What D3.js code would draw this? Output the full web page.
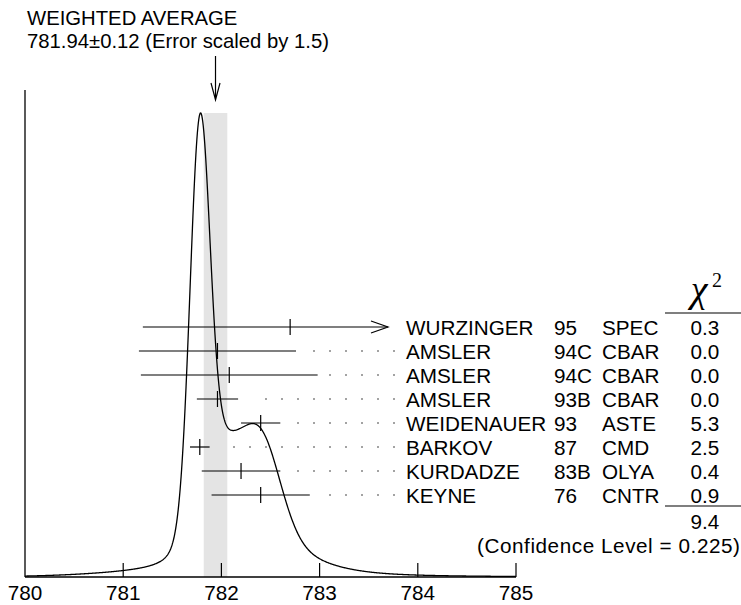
<!DOCTYPE html>
<html>
<head>
<meta charset="utf-8">
<script src="https://cdn.jsdelivr.net/npm/d3@7"></script>
<style>
  body { margin: 0; background: #fff; }
  svg text { font-family: 'Liberation Sans', Arial, sans-serif; font-size: 20.7px; fill: #000; }
</style>
</head>
<body>
<div id="ideogram"></div>
<script>
const authors = ['WURZINGER', 'AMSLER', 'AMSLER', 'AMSLER', 'WEIDENAUER', 'BARKOV', 'KURDADZE', 'KEYNE'];
const years = ['95', '94C', '94C', '93B', '93', '87', '83B', '76'];
const techniques = ['SPEC', 'CBAR', 'CBAR', 'CBAR', 'ASTE', 'CMD', 'OLYA', 'CNTR'];
const values = [782.7, 781.96, 782.08, 781.96, 782.4, 781.78, 782.2, 782.4];
const errors = [1.5, 0.8, 0.9, 0.21, 0.2, 0.1, 0.4, 0.5];
const chi2Values = ['0.3', '0.0', '0.0', '0.0', '5.3', '2.5', '0.4', '0.9'];
const xTicks = [780, 781, 782, 783, 784, 785];
const average = 781.94;
const averageError = 0.12;
const chi2Total = '9.4';
const confidenceLevel = '0.225';

const width = 741;
const height = 605;
const baseY = 577;
const peakY = 113;
const rowTop = 327;
const rowStep = 24;
const nameX = 406;
const yearX = 554;
const techX = 602;
const chi2X = 705;

const svg = d3.select('#ideogram').append('svg')
    .attr('width', width)
    .attr('height', height);

const x = d3.scaleLinear().domain([780, 785]).range([25, 516]);

// ideogram: one gaussian per measurement, height ~ 1/sigma^2
function ideogram(m) {
  return d3.sum(values, (v, i) => Math.exp(-0.5 * Math.pow((m - v) / errors[i], 2)) / (errors[i] * errors[i]));
}
const curvePoints = d3.range(780, 785.0001, 0.005).map(m => [m, ideogram(m)]);
const peak = d3.max(curvePoints, d => d[1]);
const y = d3.scaleLinear().domain([0, peak]).range([baseY, peakY]);

// title
svg.append('text').attr('x', 27).attr('y', 25)
    .style('font-size', '20.3px')
    .text('WEIGHTED AVERAGE');
svg.append('text').attr('x', 27).attr('y', 48)
    .style('font-size', '20.3px')
    .text(`${average}\u00b1${averageError} (Error scaled by 1.5)`);

// band for weighted average
svg.append('rect')
    .attr('x', x(average - averageError))
    .attr('y', peakY)
    .attr('width', x(average + averageError) - x(average - averageError))
    .attr('height', baseY - peakY)
    .attr('fill', '#e4e4e4');

// arrow pointing at average
const ax = x(average);
svg.append('path')
    .attr('d', `M${ax},56 L${ax},100 M${ax - 4.5},83 L${ax},100 L${ax + 4.5},83`)
    .attr('fill', 'none').attr('stroke', '#000').attr('stroke-width', 1.2);

// axes
svg.append('line')
    .attr('x1', x(780)).attr('x2', x(780)).attr('y1', 90).attr('y2', baseY)
    .attr('stroke', '#000').attr('stroke-width', 1.3);
svg.append('line')
    .attr('x1', x(780)).attr('x2', x(785)).attr('y1', baseY).attr('y2', baseY)
    .attr('stroke', '#000').attr('stroke-width', 1.3);
svg.selectAll('.tick')
    .data(xTicks.slice(1))
    .enter()
    .append('line')
    .attr('class', 'tick')
    .attr('x1', d => x(d)).attr('x2', d => x(d))
    .attr('y1', baseY).attr('y2', baseY - 14)
    .attr('stroke', '#000').attr('stroke-width', 1.2);
svg.selectAll('.tick-label')
    .data(xTicks)
    .enter()
    .append('text')
    .attr('class', 'tick-label')
    .attr('x', d => x(d))
    .attr('y', 600)
    .style('text-anchor', 'middle')
    .text(d => d);

// curve
svg.append('path')
    .datum(curvePoints)
    .attr('d', d3.line().x(d => x(d[0])).y(d => y(d[1])))
    .attr('fill', 'none')
    .attr('stroke', '#000')
    .attr('stroke-width', 1.3);

// measurements
const clipX = nameX - 18;
values.forEach((v, i) => {
  const cy = rowTop + i * rowStep;
  const x0 = x(v - errors[i]);
  let x1 = x(v + errors[i]);
  const clipped = x1 > clipX;
  if (clipped) x1 = clipX;

  svg.append('line')
      .attr('x1', x0).attr('x2', x1).attr('y1', cy).attr('y2', cy)
      .attr('stroke', '#000').attr('stroke-width', 1.2);
  svg.append('line')
      .attr('x1', x(v)).attr('x2', x(v)).attr('y1', cy - 8).attr('y2', cy + 8)
      .attr('stroke', '#000').attr('stroke-width', 1.2);

  if (clipped) {
    svg.append('path')
        .attr('d', `M${x1 - 17},${cy - 6} L${x1},${cy} L${x1 - 17},${cy + 6}`)
        .attr('fill', 'none').attr('stroke', '#000').attr('stroke-width', 1.2);
  } else {
    const dots = d3.range(394, x1 + 12.2, -16);
    svg.selectAll(null)
        .data(dots)
        .enter()
        .append('circle')
        .attr('cx', d => d).attr('cy', cy)
        .attr('r', 0.7)
        .attr('fill', '#000');
  }

  const by = cy + 8;
  svg.append('text').attr('x', nameX).attr('y', by).text(authors[i]);
  svg.append('text').attr('x', yearX).attr('y', by).text(years[i]);
  svg.append('text').attr('x', techX).attr('y', by).text(techniques[i]);
  svg.append('text').attr('x', chi2X).attr('y', by).style('text-anchor', 'middle').text(chi2Values[i]);
});

// chi2 header and total
svg.append('text').attr('x', 699).attr('y', 302)
    .style('font-family', "'Liberation Serif', 'Times New Roman', serif")
    .style('font-style', 'italic')
    .style('font-size', '38px')
    .style('text-anchor', 'middle')
    .text('\u03c7');
svg.append('text').attr('x', 712).attr('y', 287)
    .style('font-family', "'Liberation Serif', 'Times New Roman', serif")
    .style('font-size', '20px')
    .text('2');
svg.append('line').attr('x1', 665).attr('x2', 741).attr('y1', 313).attr('y2', 313)
    .attr('stroke', '#000').attr('stroke-width', 1.2);
svg.append('line').attr('x1', 665).attr('x2', 741).attr('y1', 506).attr('y2', 506)
    .attr('stroke', '#000').attr('stroke-width', 1.2);
svg.append('text').attr('x', chi2X).attr('y', 529).style('text-anchor', 'middle').text(chi2Total);
svg.append('text').attr('x', 477).attr('y', 553)
    .attr('textLength', 263)
    .attr('lengthAdjust', 'spacing')
    .text(`(Confidence Level = ${confidenceLevel})`);
</script>
</body>
</html>
